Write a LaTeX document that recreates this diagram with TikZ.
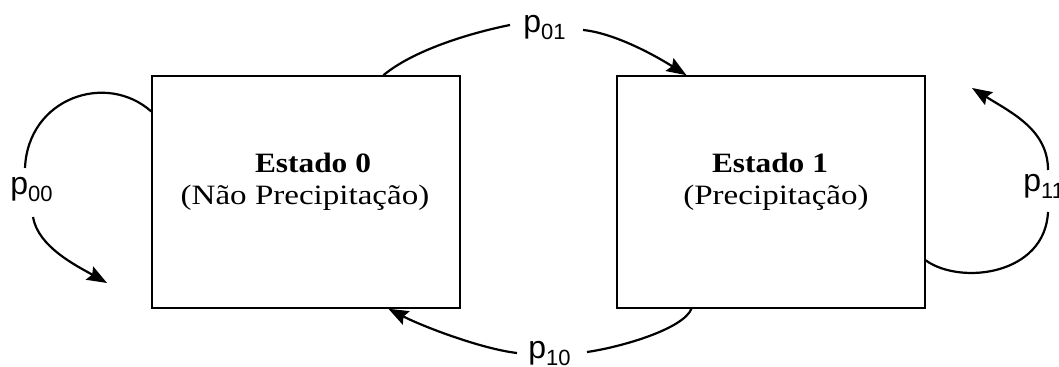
\documentclass[tikz,border=0pt]{standalone}
\usepackage{fontspec}
\newfontfamily\boxfont{Liberation Serif}[FakeStretch=1.18]
\newfontfamily\boxbold{Liberation Serif}[FakeStretch=1.12]
\newfontfamily\labfont{Liberation Sans}
\usetikzlibrary{arrows.meta,calc}
\newcommand\plab[1]{p\raisebox{-3.5pt}{\fontsize{11}{11}\selectfont #1}}
\begin{document}
\begin{tikzpicture}[x=0.5pt,y=-0.5pt,
  statebox/.style={draw, line width=0.75pt, inner sep=0pt, minimum width=154pt, minimum height=116pt},
  title/.style={font=\boxbold\bfseries\fontsize{14}{16}\selectfont, inner sep=0pt, anchor=base},
  subtitle/.style={font=\boxfont\fontsize{14}{16}\selectfont, inner sep=0pt, anchor=base},
  ptext/.style={font=\labfont\fontsize{16}{16}\selectfont, inner sep=0pt, anchor=base west},
  plain/.style={line width=1.1pt},
  flow/.style={line width=1.1pt, -{Stealth[length=10pt,width=7.5pt,inset=1.5pt]}}]
\fill[white] (0,0) rectangle (1059,367);
\useasboundingbox (0,0) rectangle (1059,367);
\clip (0,0) rectangle (1059,367);
% states
\node[statebox] (b0) at (306,192) {};
\node[statebox] (b1) at (771,192) {};
\node[title] (t0) at (313,173) {Estado 0};
\node[subtitle] (s0) at (305,205) {(Não Precipitação)};
\node[title] (t1) at (770,173) {Estado 1};
\node[subtitle] (s1) at (776,205) {(Precipitação)};
% labels
\node[ptext] (l00) at (10,195) {\plab{00}};
\node[ptext] (l01) at (523,33) {\plab{01}};
\node[ptext] (l10) at (528,359) {\plab{10}};
\node[ptext] (l11) at (1023,192) {\plab{11}};
% connector points
\coordinate (s00) at ($(b0.north west)!0.155!(b0.south west)$);
\coordinate (c00a) at (25,168);
\coordinate (c00b) at (33,217);
\coordinate (c00t) at (107,283);
\coordinate (s01) at ($(b0.north west)!0.75!(b0.north east)$);
\coordinate (c01a) at (510,25);
\coordinate (c01b) at (583,30);
\coordinate (e01) at ($(b1.north west)!0.227!(b1.north east)$);
\coordinate (s10) at ($(b1.south west)!0.243!(b1.south east)$);
\coordinate (c10a) at (587,352);
\coordinate (c10b) at (517,353);
\coordinate (e10) at ($(b0.south west)!0.766!(b0.south east)$);
\coordinate (s11) at ($(b1.north east)!0.793!(b1.south east)$);
\coordinate (c11a) at (1048,212);
\coordinate (c11b) at (1048,170);
\coordinate (c11t) at (972,88);
% p00
\draw[plain] (s00) .. controls +(-45,-40) and +(3,-70) .. (c00a);
\draw[flow] (c00b) .. controls +(5,30) and +(-30,-17) .. (c00t);
% p01
\draw[plain] (s01) .. controls +(30,-25) and +(-40,8) .. (c01a);
\draw[flow] (c01b) .. controls +(30,3) and +(-35,-22) .. (e01);
% p10
\draw[plain] (s10) .. controls +(-8,20) and +(35,-5) .. (c10a);
\draw[flow] (c10b) .. controls +(-35,-4) and +(35,18) .. (e10);
% p11
\draw[plain] (s11) .. controls +(35,25) and +(-3,63) .. (c11a);
\draw[flow] (c11b) .. controls +(0,-40) and +(40,25) .. (c11t);
\end{tikzpicture}
\end{document}
